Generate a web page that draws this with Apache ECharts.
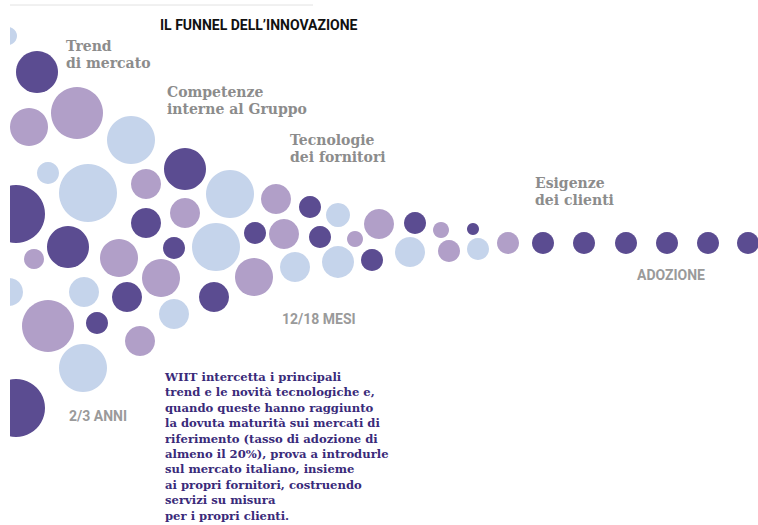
<!DOCTYPE html>
<html>
<head>
<meta charset="utf-8">
<script src="https://cdn.jsdelivr.net/npm/echarts@6/dist/echarts.min.js"></script>
<style>
html,body{margin:0;padding:0;background:#fff;}
#c{width:758px;height:525px;}
</style>
</head>
<body>
<div id="c"></div>
<script>
// [x, y, radius] of each bubble
var darkBubbles = [
  [37,72,21],[185,169,21],[16,214,29],[146,223,15],[310,207,11],[68,247,21],
  [255,233,11],[320,237,11],[174,248,11],[127,297,15],[214,297,15],[97,323,11],
  [16,408,29],[372,260,11],[415,223,11],[473,229,6],
  [543,243,11],[584,243,11],[626,243,11],[667,243,11],[708,243,11],[748,243,11]
];
var lilacBubbles = [
  [29,127,19],[77,113,26],[146,184,15],[185,213,15],[276,199,15],[284,234,15],
  [355,239,8],[34,259,10],[119,258,19],[161,278,19],[254,277,19],[48,326,26],
  [140,341,15],[379,224,15],[441,230,8],[449,251,11],[508,243,11]
];
var blueBubbles = [
  [8,36,9],[131,140,24],[48,173,11],[88,193,29],[230,194,24],[338,215,12],
  [216,247,24],[9,292,14],[84,292,15],[174,314,15],[295,267,15],[338,262,16],
  [410,252,15],[478,249,11],[83,368,24]
];
var titleText = "IL FUNNEL DELL\u2019INNOVAZIONE";
var stageLabels = [
  {text:"Trend\ndi mercato", x:66, y:46},
  {text:"Competenze\ninterne al Gruppo", x:167, y:92},
  {text:"Tecnologie\ndei fornitori", x:290, y:140},
  {text:"Esigenze\ndei clienti", x:535, y:183}
];
var timeLabels = [
  {text:"2/3 ANNI", x:69, y:416},
  {text:"12/18 MESI", x:282, y:319},
  {text:"ADOZIONE", x:637, y:275}
];
var paragraphLines = [
  "WIIT intercetta i principali",
  "trend e le novit\u00e0 tecnologiche e,",
  "quando queste hanno raggiunto",
  "la dovuta maturit\u00e0 sui mercati di",
  "riferimento (tasso di adozione di",
  "almeno il 20%), prova a introdurle",
  "sul mercato italiano, insieme",
  "ai propri fornitori, costruendo",
  "servizi su misura",
  "per i propri clienti."
];

var chart = echarts.init(document.getElementById('c'), null, {renderer:'svg'});

function bubbleSeries(name, data, color){
  return {
    name: name, type: 'scatter', data: data,
    symbolSize: function(d){ return d[2]*2; },
    itemStyle: {color: color, opacity: 1},
    emphasis: {disabled: true},
    silent: true,
    animation: false
  };
}

var graphics = [
  {type:'rect', shape:{x:0,y:0,width:10,height:525}, style:{fill:'#fff'}, z:100},
  {type:'line', shape:{x1:10,y1:5,x2:313,y2:5}, style:{stroke:'#e2e2e2', lineWidth:1}, z:100},
  {type:'text', x:160, y:25, z:100, style:{text:titleText, fill:'#111', font:'bold 14px Roboto', verticalAlign:'middle'}}
];
stageLabels.forEach(function(s){
  graphics.push({type:'text', x:s.x, y:s.y-8.5, z:100,
    style:{text:s.text, fill:'#8c8c8c', font:'bold 14px "DejaVu Serif"', lineHeight:17, verticalAlign:'top'}});
});
timeLabels.forEach(function(s){
  graphics.push({type:'text', x:s.x, y:s.y, z:100,
    style:{text:s.text, fill:'#9a9a9a', font:'bold 14px Roboto', verticalAlign:'middle'}});
});
graphics.push({type:'text', x:165, y:377-7.7, z:100,
  style:{text:paragraphLines.join('\n'), fill:'#3a2b7a', font:'bold 11.6px "DejaVu Serif"', lineHeight:15.4, verticalAlign:'top'}});

chart.setOption({
  animation: false,
  backgroundColor: '#fff',
  grid: {left:0, right:0, top:0, bottom:0},
  xAxis: {type:'value', min:0, max:758, show:false},
  yAxis: {type:'value', min:0, max:525, inverse:true, show:false},
  series: [
    bubbleSeries('Esigenze', blueBubbles, '#c5d4eb'),
    bubbleSeries('Competenze', lilacBubbles, '#b19fc8'),
    bubbleSeries('Trend', darkBubbles, '#5b4c91')
  ],
  graphic: graphics
});
</script>
</body>
</html>
